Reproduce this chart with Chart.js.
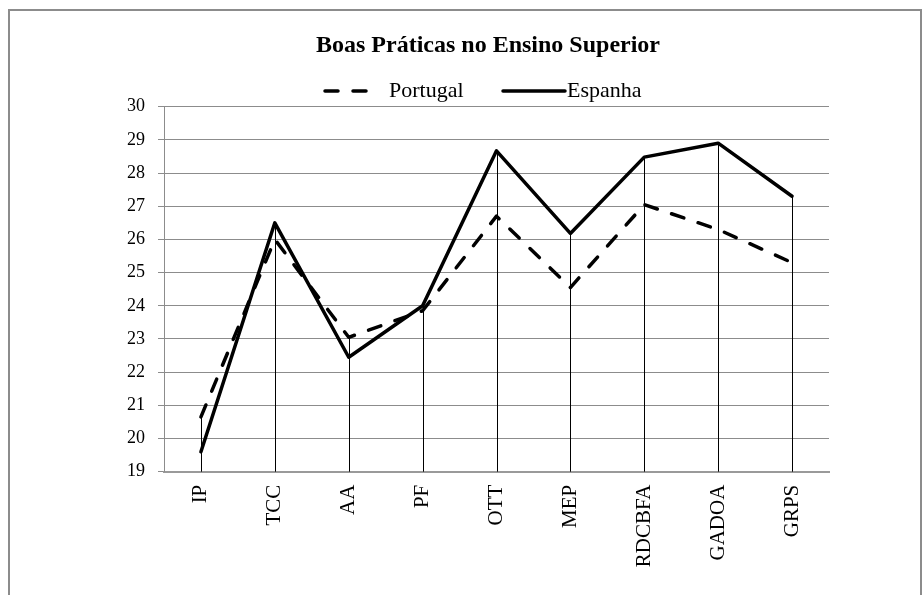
<!DOCTYPE html>
<html>
<head>
<meta charset="utf-8">
<script src="https://cdn.jsdelivr.net/npm/chart.js@4/dist/chart.umd.min.js"></script>
<style>
  html, body { margin: 0; padding: 0; background: #fff; }
  #frame { position: absolute; left: 8px; top: 9px; width: 914px; height: 700px; border: 2px solid #8c8c8c; box-sizing: border-box; }
  #wrap { position: absolute; left: 0; top: 0; width: 924px; height: 595px; }
</style>
</head>
<body>
<div id="frame"></div>
<div id="wrap"><canvas id="c" width="924" height="595"></canvas></div>
<script>
const chartTitle = 'Boas Práticas no Ensino Superior';
const categories = ['IP', 'TCC', 'AA', 'PF', 'OTT', 'MEP', 'RDCBFA', 'GADOA', 'GRPS'];
const seriesNames = ['Portugal', 'Espanha'];
const portugal = [20.65, 26.0, 23.05, 23.85, 26.7, 24.55, 27.05, 26.3, 25.3];
const espanha = [19.6, 26.5, 22.45, 24.0, 28.67, 26.18, 28.48, 28.9, 27.3];
const yMin = 19;
const yMax = 30;
const yStep = 1;

const SERIF = '"Liberation Serif", "Times New Roman", serif';

// Vertical drop lines from the highest point of each category down to the axis
const dropLines = {
  id: 'dropLines',
  beforeDatasetsDraw(chart) {
    const {ctx, scales: {x, y}, chartArea} = chart;
    ctx.save();
    ctx.strokeStyle = '#000';
    ctx.lineWidth = 1;
    categories.forEach((c, i) => {
      const top = Math.max(...chart.data.datasets.map(d => d.data[i]));
      const px = Math.round(x.getPixelForValue(i)) + 0.5;
      ctx.beginPath();
      ctx.moveTo(px, y.getPixelForValue(top));
      ctx.lineTo(px, chartArea.bottom);
      ctx.stroke();
    });
    ctx.restore();
  }
};

// Title and legend (legend keys use the dataset styles)
const headerPlugin = {
  id: 'header',
  afterDraw(chart) {
    const {ctx} = chart;
    ctx.save();
    ctx.fillStyle = '#000';
    ctx.font = 'bold 24px ' + SERIF;
    ctx.textBaseline = 'middle';
    ctx.textAlign = 'center';
    ctx.fillText(chartTitle, 488, 46);

    const items = [
      {keyStart: 325, keyLen: 43, textX: 389},
      {keyStart: 503, keyLen: 62, textX: 567}
    ];
    const yc = 91;
    chart.data.datasets.forEach((ds, i) => {
      const it = items[i];
      ctx.strokeStyle = ds.borderColor;
      ctx.lineWidth = ds.borderWidth;
      ctx.lineCap = ds.borderCapStyle || 'butt';
      ctx.setLineDash(ds.borderDash || []);
      ctx.beginPath();
      ctx.moveTo(it.keyStart, yc);
      ctx.lineTo(it.keyStart + it.keyLen, yc);
      ctx.stroke();
      ctx.setLineDash([]);
      ctx.fillStyle = '#000';
      ctx.font = '22px ' + SERIF;
      ctx.textBaseline = 'middle';
      ctx.textAlign = 'left';
      ctx.fillText(ds.label, it.textX, yc);
    });
    ctx.restore();
  }
};

new Chart(document.getElementById('c'), {
  type: 'line',
  data: {
    labels: categories,
    datasets: [
      {
        label: seriesNames[0],
        data: portugal,
        borderColor: '#000',
        backgroundColor: '#000',
        borderWidth: 3.5,
        borderDash: [13, 15],
        borderCapStyle: 'round',
        borderJoinStyle: 'round',
        pointRadius: 0,
        tension: 0,
        fill: false
      },
      {
        label: seriesNames[1],
        data: espanha,
        borderColor: '#000',
        backgroundColor: '#000',
        borderWidth: 3.5,
        borderCapStyle: 'round',
        borderJoinStyle: 'round',
        pointRadius: 0,
        tension: 0,
        fill: false
      }
    ]
  },
  options: {
    responsive: false,
    animation: false,
    devicePixelRatio: 1,
    layout: { padding: { left: 0, right: 95, top: 106.7, bottom: 0 } },
    plugins: {
      legend: { display: false },
      tooltip: { enabled: false },
      title: { display: false }
    },
    scales: {
      x: {
        offset: true,
        grid: { display: false, drawTicks: false },
        border: { display: true, color: '#9a9a9a', width: 2 },
        ticks: {
          autoSkip: false,
          minRotation: 90,
          maxRotation: 90,
          padding: 13,
          color: '#000',
          font: { family: SERIF, size: 21 }
        },
        afterFit(scale) { scale.height = 123.3; }
      },
      y: {
        min: yMin,
        max: yMax,
        grid: { color: '#8c8c8c', lineWidth: 1, drawTicks: true, tickLength: 6 },
        border: { display: true, color: '#8c8c8c', width: 1 },
        ticks: {
          stepSize: yStep,
          padding: 13,
          color: '#000',
          font: { family: SERIF, size: 18 }
        },
        afterFit(scale) { scale.width = 164; }
      }
    }
  },
  plugins: [dropLines, headerPlugin]
});
</script>
</body>
</html>
